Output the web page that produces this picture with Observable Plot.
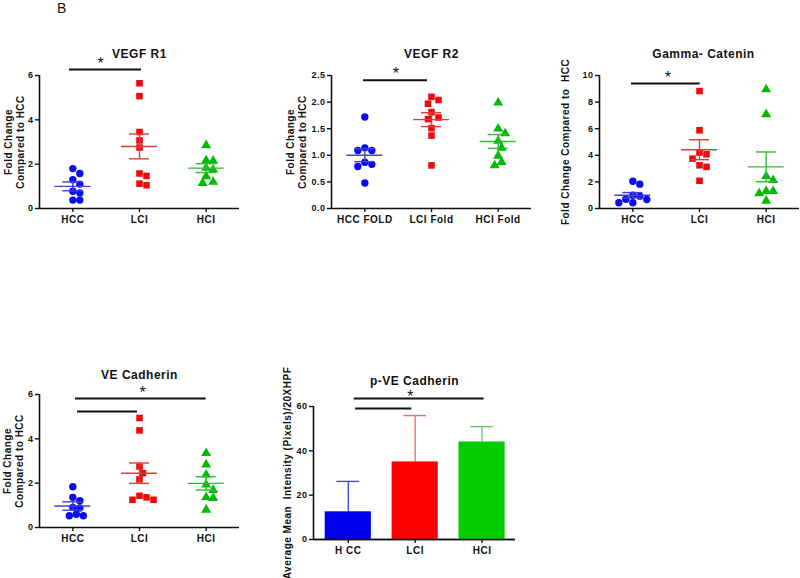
<!DOCTYPE html>
<html><head><meta charset="utf-8">
<script src="https://cdn.jsdelivr.net/npm/d3@7"></script>
<script src="https://cdn.jsdelivr.net/npm/@observablehq/plot@0.6"></script>
<style>
body{margin:0;background:#fff;}
#root{position:relative;width:800px;height:578px;overflow:hidden;font-family:"Liberation Sans",Arial,sans-serif;background:#fff;}
.panel{position:absolute;}
#lbl{position:absolute;left:57px;top:1px;font-size:14px;line-height:14px;color:#111;}
</style></head><body><div id="root"><div id="lbl">B</div></div>
<script>
// ---------- data ----------
const groups = ["HCC", "LCI", "HCI"];
const pointColors = ["#0a0aee", "#ee0a0a", "#00bb00"];
const lineColors = ["#4040dd", "#e53a3a", "#30bb30"];
const barColors = ["#0000ee", "#ff0000", "#00cc00"];
const errColors = ["#4a4ae6", "#f07070", "#66cc66"];
const symbols = ["circle", "square", "triangle"];

// VEGF R1
const vegfR1Labels = ["HCC", "LCI", "HCI"];
const vegfR1HCC = [1.8, 1.58, 1.3, 1.1, 0.78, 0.7, 0.38, 0.38];
const vegfR1LCI = [5.65, 5.07, 3.45, 3.07, 2.75, 1.58, 1.47, 1.12, 1.05];
const vegfR1HCI = [2.85, 2.17, 2.15, 1.83, 1.75, 1.45, 1.2, 1.15];
const vegfR1Mean = [1.0, 2.8, 1.82];
const vegfR1Sem = [0.2, 0.56, 0.2];
const vegfR1Ticks = [0, 2, 4, 6];

// VEGF R2
const vegfR2Labels = ["HCC FOLD", "LCI Fold", "HCI Fold"];
const vegfR2HCC = [1.72, 1.14, 1.09, 1.09, 0.87, 0.83, 0.79, 0.48];
const vegfR2LCI = [2.1, 2.04, 1.97, 1.81, 1.71, 1.68, 1.51, 1.37, 0.81];
const vegfR2HCI = [1.99, 1.5, 1.41, 1.27, 1.14, 0.99, 0.87, 0.81];
const vegfR2Mean = [1.0, 1.67, 1.26];
const vegfR2Sem = [0.12, 0.13, 0.13];
const vegfR2Ticks = [0, 0.5, 1, 1.5, 2, 2.5];

// Gamma-Catenin
const gammaLabels = ["HCC", "LCI", "HCI"];
const gammaHCC = [2.05, 1.83, 1.0, 0.93, 0.7, 0.68, 0.43, 0.43];
const gammaLCI = [8.83, 5.88, 4.2, 4.08, 3.75, 3.25, 3.13, 2.08];
const gammaHCI = [8.95, 7.08, 2.43, 2.13, 1.3, 1.3, 1.13, 0.58];
const gammaMean = [1.0, 4.42, 3.13];
const gammaSem = [0.2, 0.75, 1.12];
const gammaTicks = [0, 2, 4, 6, 8, 10];

// VE Cadherin
const veLabels = ["HCC", "LCI", "HCI"];
const veHCC = [1.84, 1.36, 1.21, 0.91, 0.88, 0.6, 0.53, 0.53];
const veLCI = [4.94, 4.38, 2.75, 2.45, 2.17, 1.43, 1.36, 1.25, 1.25];
const veHCI = [3.35, 2.84, 2.38, 1.93, 1.69, 1.36, 1.33, 0.8];
const veMean = [0.97, 2.45, 1.99];
const veSem = [0.19, 0.46, 0.3];
const veTicks = [0, 2, 4, 6];

// p-VE Cadherin (bars)
const pveLabels = ["H CC", "LCI", "HCI"];
const pveMean = [12.5, 35, 44];
const pveSd = [13.7, 20.9, 6.9];
const pveTicks = [0, 20, 40, 60];

// significance brackets (data units: group index, value)
const vegfR1Sig = [{x1: -0.05, x2: 1.03, y: 6.27}];
const vegfR1Star = [{x: 0.42, y: 6.27}];
const vegfR2Sig = [{x1: -0.02, x2: 0.94, y: 2.41}];
const vegfR2Star = [{x: 0.47, y: 2.41}];
const gammaSig = [{x1: -0.02, x2: 1.01, y: 9.4}];
const gammaStar = [{x: 0.53, y: 9.4}];
const veSig = [{x1: 0.04, x2: 2.0, y: 5.82}, {x1: 0.07, x2: 0.97, y: 5.23}];
const veStar = [{x: 1.05, y: 5.82}];
const pveSig = [{x1: 0.09, x2: 2.03, y: 63.6}, {x1: 0.11, x2: 0.95, y: 59.1}];
const pveStar = [{x: 0.93, y: 63.6}];

// ---------- helpers ----------
const root = document.getElementById("root");
const baseStyle = {fontFamily: "'Liberation Sans', Arial, sans-serif", fontWeight: "bold", color: "#111", background: "transparent", overflow: "visible", letterSpacing: "0.5px"};

function swarm(vals, pxY, pxX) {
  const d = 7;
  const order = vals.map((v, i) => i).sort((a, b) => vals[b] - vals[a]);
  const placed = [];
  const off = new Array(vals.length).fill(0);
  for (const i of order) {
    const y = vals[i] * pxY;
    let best = 0;
    for (let k = 0; k < 40; k++) {
      const cand = k === 0 ? 0 : (k % 2 ? 1 : -1) * Math.ceil(k / 2) * d / 2;
      if (placed.every(p => Math.hypot(p.x - cand, p.y - y) >= d - 0.01)) { best = cand; break; }
    }
    placed.push({x: best, y});
    off[i] = best / pxX;
  }
  return off;
}

function place(svg, left, top) {
  const div = document.createElement("div");
  div.className = "panel";
  div.style.left = left + "px";
  div.style.top = top + "px";
  div.appendChild(svg);
  root.appendChild(div);
}

function commonMarks(c) {
  return [
    Plot.ruleY([0], {stroke: "#111", strokeWidth: 1.6}),
    Plot.ruleX([c.xmin], {stroke: "#111", strokeWidth: 1.6}),
    Plot.axisY({ticks: c.yticks, tickFormat: c.yfmt, tickSize: 4, tickPadding: 2, fontSize: 9, strokeWidth: 1.4, label: null}),
    Plot.axisX({ticks: [0, 1, 2], tickFormat: i => c.xlabels[i], tickSize: 4, tickPadding: 3, fontSize: 10, strokeWidth: 1.4, label: null}),
    Plot.text([c.title], {frameAnchor: "top", dy: c.titleDy, dx: c.titleDx || 0, fontSize: 12, lineAnchor: "middle"}),
    Plot.text([c.ylabel], {frameAnchor: "left", dx: c.ylabelDx, rotate: -90, textAnchor: "middle", lineAnchor: "middle", fontSize: 10, lineHeight: 1.15}),
    Plot.ruleY(c.sig, {y: "y", x1: "x1", x2: "x2", stroke: "#111", strokeWidth: 2}),
    Plot.text(c.star, {x: "x", y: "y", text: () => "*", dy: c.starDy || -6, fontSize: 16, fontWeight: "normal"})
  ];
}

function scatterPanel(c) {
  const ih = c.height - c.mt - c.mb;
  const iw = c.width - c.ml - c.mr;
  const marks = commonMarks(c);
  c.data.forEach((arr, g) => {
    const off = swarm(arr, ih / c.ymax, iw / (2 - c.xmin + 0.5));
    const pts = arr.map((v, i) => ({x: g + off[i], y: v}));
    const m = c.mean[g], s = c.sem[g];
    const st = [{i: g, m, lo: m - s, hi: m + s}];
    marks.push(
      Plot.dot(pts, {x: "x", y: "y", symbol: () => symbols[g], fill: pointColors[g], r: 3.7}),
      Plot.ruleY(st, {y: "m", x1: d => d.i - 0.27, x2: d => d.i + 0.27, stroke: lineColors[g], strokeWidth: 1.4}),
      Plot.ruleX(st, {x: "i", y1: "lo", y2: "hi", stroke: lineColors[g], strokeWidth: 1.4}),
      Plot.ruleY(st, {y: "lo", x1: d => d.i - 0.15, x2: d => d.i + 0.15, stroke: lineColors[g], strokeWidth: 1.4}),
      Plot.ruleY(st, {y: "hi", x1: d => d.i - 0.15, x2: d => d.i + 0.15, stroke: lineColors[g], strokeWidth: 1.4})
    );
  });
  const svg = Plot.plot({
    width: c.width, height: c.height,
    marginTop: c.mt, marginBottom: c.mb, marginLeft: c.ml, marginRight: c.mr,
    x: {domain: [c.xmin, 2.5]},
    y: {domain: [0, c.ymax]},
    symbol: {type: "identity"},
    style: baseStyle,
    marks
  });
  place(svg, c.left, c.top);
}

function barPanel(c) {
  const bars = pveMean.map((v, i) => ({i, v, e: pveSd[i]}));
  const marks = commonMarks(c);
  bars.forEach((b, g) => {
    marks.push(
      Plot.ruleX([b], {x: "i", y1: "v", y2: d => d.v + d.e, stroke: errColors[g], strokeWidth: 1.4}),
      Plot.ruleY([b], {y: d => d.v + d.e, x1: d => d.i - 0.17, x2: d => d.i + 0.17, stroke: errColors[g], strokeWidth: 1.4}),
      Plot.rect([b], {x1: d => d.i - 0.345, x2: d => d.i + 0.345, y1: 0, y2: "v", fill: barColors[g]})
    );
  });
  marks.push(Plot.ruleY([0], {stroke: "#111", strokeWidth: 1.6}));
  const svg = Plot.plot({
    width: c.width, height: c.height,
    marginTop: c.mt, marginBottom: c.mb, marginLeft: c.ml, marginRight: c.mr,
    x: {domain: [c.xmin, 2.5]},
    y: {domain: [0, c.ymax]},
    style: baseStyle,
    marks
  });
  place(svg, c.left, c.top);
}

// ---------- panels ----------
scatterPanel({left: 0, top: 30, width: 250, height: 200, mt: 45, mb: 22, ml: 39, mr: 11,
  xmin: -0.5, ymax: 6, yticks: vegfR1Ticks, yfmt: d3.format("d"), xlabels: vegfR1Labels,
  title: "VEGF R1", titleDy: -21, ylabel: "Fold Change\nCompared to HCC", ylabelDx: -25,
  data: [vegfR1HCC, vegfR1LCI, vegfR1HCI], mean: vegfR1Mean, sem: vegfR1Sem, sig: vegfR1Sig, star: vegfR1Star});

scatterPanel({left: 280, top: 30, width: 260, height: 200, mt: 45, mb: 22, ml: 51, mr: 9,
  xmin: -0.5, ymax: 2.5, yticks: vegfR2Ticks, yfmt: d3.format(".1f"), xlabels: vegfR2Labels,
  title: "VEGF R2", titleDy: -21, ylabel: "Fold Change\nCompared to HCC", ylabelDx: -35,
  data: [vegfR2HCC, vegfR2LCI, vegfR2HCI], mean: vegfR2Mean, sem: vegfR2Sem, sig: vegfR2Sig, star: vegfR2Star});

scatterPanel({left: 550, top: 30, width: 250, height: 200, mt: 45, mb: 22, ml: 49, mr: 1,
  xmin: -0.5, ymax: 10, yticks: gammaTicks, yfmt: d3.format("d"), xlabels: gammaLabels,
  title: "Gamma- Catenin", titleDy: -21, titleDx: 4, ylabel: "Fold Change Compared to  HCC", ylabelDx: -34,
  data: [gammaHCC, gammaLCI, gammaHCI], mean: gammaMean, sem: gammaSem, sig: gammaSig, star: gammaStar});

scatterPanel({left: 0, top: 340, width: 250, height: 210, mt: 54, mb: 23, ml: 39, mr: 11,
  xmin: -0.5, ymax: 6, yticks: veTicks, yfmt: d3.format("d"), xlabels: veLabels,
  title: "VE Cadherin", titleDy: -19, ylabel: "Fold Change\nCompared to HCC", ylabelDx: -26,
  data: [veHCC, veLCI, veHCI], mean: veMean, sem: veSem, sig: veSig, star: veStar});

barPanel({left: 270, top: 350, width: 260, height: 228, mt: 56, mb: 39, ml: 43, mr: 15,
  xmin: -0.52, ymax: 60, yticks: pveTicks, yfmt: d3.format("d"), xlabels: pveLabels,
  title: "p-VE Cadherin", titleDy: -25, ylabel: "Average Mean  Intensity (Pixels)/20XHPF", ylabelDx: -26,
  sig: pveSig, star: pveStar, starDy: -2});
</script></body></html>
